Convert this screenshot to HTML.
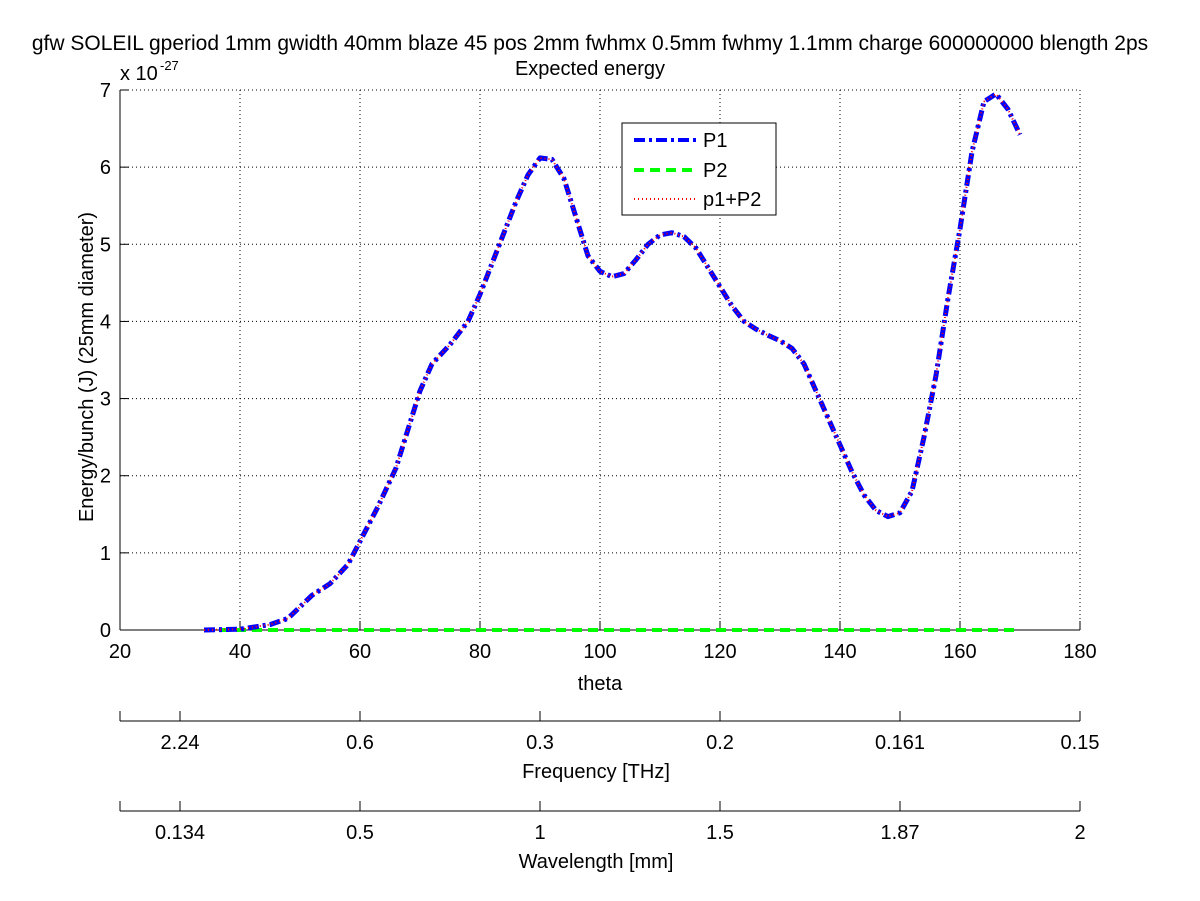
<!DOCTYPE html>
<html><head><meta charset="utf-8"><style>
body{margin:0;background:#fff;}
svg{display:block;font-family:"Liberation Sans",sans-serif;}
</style></head><body>
<svg id="c" width="1200" height="901" viewBox="0 0 1200 901"></svg>
<script>
const thetas=[34,40,45,48,50,52,55,58,60,63,66,68,70,72,75,78,80,83,86,88,90,92,94,96,98,100,102,104,106,108,110,112,114,116,118,120,122,124,126,128,130,132,134,136,138,140,142,144,146,148,150,152,154,156,158,160,162,164,166,168,170];
const p1Values=[0,0.01,0.07,0.15,0.3,0.45,0.6,0.85,1.15,1.6,2.1,2.6,3.1,3.45,3.7,4.0,4.35,4.95,5.55,5.9,6.12,6.1,5.85,5.35,4.85,4.65,4.58,4.62,4.8,5.0,5.12,5.15,5.1,4.95,4.7,4.45,4.2,4.0,3.9,3.82,3.75,3.65,3.45,3.1,2.75,2.4,2.05,1.75,1.55,1.47,1.52,1.8,2.5,3.3,4.3,5.2,6.2,6.85,6.95,6.75,6.42];
const p2Range=[34,170];
const p2Value=0;
const xTicks=[20,40,60,80,100,120,140,160,180];
const yTicks=[0,1,2,3,4,5,6,7];
const freqLabels=["2.24","0.6","0.3","0.2","0.161","0.15"];
const waveLabels=["0.134","0.5","1","1.5","1.87","2"];
const secTickTheta=[30,60,90,120,150,180];

const NS="http://www.w3.org/2000/svg";
const svg=document.getElementById('c');
const L=120,R=1080,T=90,B=630;
const FS=20;
const xS=v=>L+(v-20)/(180-20)*(R-L);
const yS=v=>B-(v-0)/7*(B-T);
function mk(tag,attrs,text){const e=document.createElementNS(NS,tag);for(const k in attrs)e.setAttribute(k,attrs[k]);if(text!==undefined)e.textContent=text;svg.appendChild(e);return e;}

let e;
e=mk('rect',{x:L,y:T,width:R-L,height:B-T,fill:'#fff',stroke:'none'});


xTicks.forEach(v=>{if(v>20&&v<180){e=mk('line',{x1:xS(v),x2:xS(v),y1:T,y2:B,stroke:'#000','stroke-width':1,'stroke-dasharray':'1,3'});

}});
yTicks.forEach(v=>{if(v>0&&v<7){e=mk('line',{x1:L,x2:R,y1:yS(v),y2:yS(v),stroke:'#000','stroke-width':1,'stroke-dasharray':'1,3'});

}});
e=mk('line',{x1:xS(180),x2:xS(180),y1:T,y2:B,stroke:'#000','stroke-dasharray':'1,3'});


e=mk('line',{x1:L,x2:R,y1:T,y2:T,stroke:'#000','stroke-dasharray':'1,3'});


e=mk('line',{x1:L,x2:R,y1:B,y2:B,stroke:'#000'});


e=mk('line',{x1:L,x2:L,y1:T,y2:B,stroke:'#000'});


xTicks.forEach(v=>{
 e=mk('line',{x1:xS(v),x2:xS(v),y1:B,y2:B-9,stroke:'#000'});
 
 
 e=mk('text',{x:xS(v),y:B+28,'font-size':FS,'text-anchor':'middle'},String(v));
 
 
});
yTicks.forEach(v=>{
 e=mk('line',{x1:L,x2:L+9,y1:yS(v),y2:yS(v),stroke:'#000'});
 
 
 e=mk('text',{x:L-9,y:yS(v)+7,'font-size':FS,'text-anchor':'end'},String(v));
 
 
});
e=mk('text',{x:120,y:80,'font-size':FS},'x 10');


e=mk('text',{x:160,y:70,'font-size':13},'-27');


e=mk('text',{x:590,y:50,'font-size':21,'text-anchor':'middle'},'gfw SOLEIL gperiod 1mm gwidth 40mm blaze 45 pos 2mm fwhmx 0.5mm fwhmy 1.1mm charge 600000000 blength 2ps');


e=mk('text',{x:590,y:75,'font-size':FS,'text-anchor':'middle'},'Expected energy');


e=mk('text',{x:600,y:690,'font-size':FS,'text-anchor':'middle'},'theta');


e=mk('text',{x:0,y:0,'font-size':FS,'text-anchor':'middle',transform:'translate(93,367) rotate(-90)'},'Energy/bunch (J) (25mm diameter)');


[[721,freqLabels,'Frequency [THz]','frequency'],[811,waveLabels,'Wavelength [mm]','wavelength']].forEach(([y,labs,title,nm])=>{
 e=mk('line',{x1:L,x2:R,y1:y,y2:y,stroke:'#000'});
 
 
 e=mk('line',{x1:L,x2:L,y1:y,y2:y-10,stroke:'#000'});
 
 
 secTickTheta.forEach((t,i)=>{
  e=mk('line',{x1:xS(t),x2:xS(t),y1:y,y2:y-10,stroke:'#000'});
  
  
  e=mk('text',{x:xS(t),y:y+28,'font-size':FS,'text-anchor':'middle'},labs[i]);
  
  
 });
 e=mk('text',{x:596,y:y+57,'font-size':FS,'text-anchor':'middle'},title);
 
 
});
const pts=thetas.map((t,i)=>xS(t).toFixed(1)+','+yS(p1Values[i]).toFixed(1)).join(' ');
e=mk('polyline',{points:`${xS(p2Range[0])},${yS(p2Value)} ${xS(p2Range[1])},${yS(p2Value)}`,fill:'none',stroke:'#00ff00','stroke-width':4,'stroke-dasharray':'10,6'});


e=mk('polyline',{points:pts,fill:'none',stroke:'#0000ff','stroke-width':5,'stroke-dasharray':'11,4,3,4','stroke-linejoin':'round'});


e=mk('polyline',{points:pts,fill:'none',stroke:'#ff0000','stroke-width':2,'stroke-dasharray':'1,3'});


e=mk('rect',{x:622,y:123,width:154,height:92,fill:'#fff',stroke:'#000'});


[['P1','#0000ff',4,'11,4,3,4',140],['P2','#00ff00',4,'10,6',170],['p1+P2','#ff0000',2,'1,3',199]].forEach(([lab,col,w,da,y])=>{
 e=mk('line',{x1:634,x2:697,y1:y,y2:y,stroke:col,'stroke-width':w,'stroke-dasharray':da});
 
 
 e=mk('text',{x:703,y:y+7,'font-size':FS},lab);
 
 
});
</script>
</body></html>
